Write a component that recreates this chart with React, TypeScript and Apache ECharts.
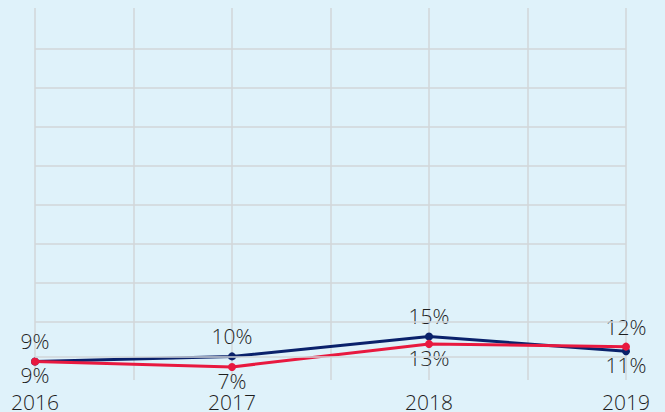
import React, { useEffect, useRef } from "react";
import * as echarts from "echarts";

const years = [2016, 2017, 2018, 2019];
const seriesBlue = [8.6, 9.9, 15.0, 11.2];
const seriesRed = [8.6, 7.2, 13.1, 12.4];
const blueLabelPos = ["top", "top", "top", "bottom"];
const redLabelPos = ["bottom", "bottom", "bottom", "top"];
const gridLineValues = [9.9, 18.7, 28.7, 38.7, 48.7, 58.7, 68.7, 78.7, 88.8];

const FONT = "'Open Sans', 'Noto Sans', sans-serif";
const TEXT = "#1e1e1e";

export default function App() {
  const ref = useRef<HTMLDivElement>(null);
  useEffect(() => {
    if (!ref.current) return;
    const chart = echarts.init(ref.current, undefined, { renderer: "svg" });
    const mk = (vals: number[], pos: string[]) =>
      vals.map((v, i) => ({
        value: [years[i], v],
        label: {
          position: pos[i],
          distance: pos[i] === "bottom" ? 0 : 6,
        },
      }));
    const labelStyle = {
      show: true,
      color: TEXT,
      fontSize: 21,
      fontWeight: 300,
      lineHeight: 20,
      fontFamily: FONT,
      formatter: (p: any) => Math.round(p.value[1]) + "%",
    };
    chart.setOption({
      animation: false,
      backgroundColor: "#dff2fa",
      grid: { left: 35, right: 39, top: 8, bottom: 32, containLabel: false },
      xAxis: {
        type: "value",
        min: 2016,
        max: 2019,
        interval: 0.5,
        axisLine: { show: false },
        axisTick: { show: false },
        axisLabel: {
          color: TEXT,
          fontSize: 21,
          fontWeight: 300,
          lineHeight: 17,
          fontFamily: FONT,
          margin: 13,
          formatter: (v: number) => (Number.isInteger(v) ? String(v) : ""),
        },
        splitLine: { show: true, lineStyle: { color: "#d2d6d8", width: 1.5 } },
      },
      yAxis: {
        type: "value",
        min: 3.85,
        max: 99.2,
        axisLine: { show: false },
        axisTick: { show: false },
        axisLabel: { show: false },
        splitLine: { show: false },
      },
      series: [
        {
          type: "line",
          data: [],
          z: 1,
          silent: true,
          markLine: {
            silent: true,
            symbol: "none",
            label: { show: false },
            lineStyle: { color: "#d2d6d8", width: 1.5, type: "solid" },
            data: gridLineValues.map((v) => ({ yAxis: v })),
          },
        },
        {
          type: "line",
          name: "blue",
          z: 3,
          data: mk(seriesBlue, blueLabelPos),
          symbol: "circle",
          symbolSize: 8,
          lineStyle: { color: "#0a216b", width: 3 },
          itemStyle: { color: "#0a216b" },
          label: labelStyle,
        },
        {
          type: "line",
          name: "red",
          z: 4,
          data: mk(seriesRed, redLabelPos),
          symbol: "circle",
          symbolSize: 8,
          lineStyle: { color: "#e8193f", width: 3 },
          itemStyle: { color: "#e8193f" },
          label: labelStyle,
        },
      ],
    });
    return () => chart.dispose();
  }, []);
  return (
    <div
      ref={ref}
      style={{ position: "absolute", left: 0, top: 0, width: 665, height: 412 }}
    />
  );
}
